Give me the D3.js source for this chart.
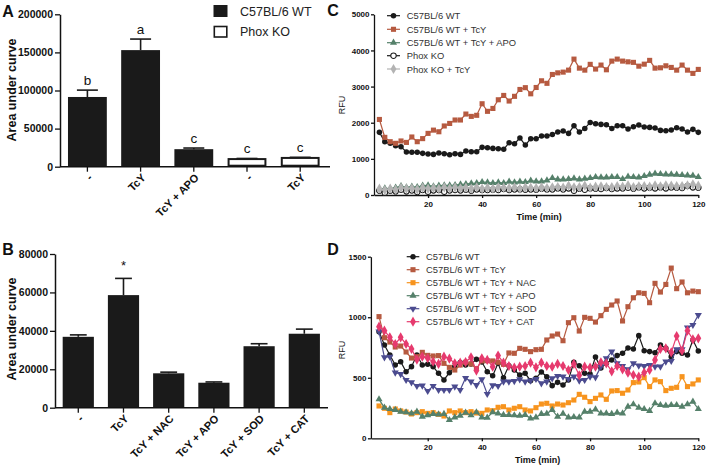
<!DOCTYPE html>
<html><head><meta charset="utf-8">
<script src="https://cdn.jsdelivr.net/npm/d3@7"></script>
<style>body{margin:0;background:#fff}svg{display:block;font-family:"Liberation Sans",Arial,sans-serif}</style>
</head><body><svg id="chart" width="707" height="467"></svg>
<script>
// ---------- Panel A ----------
const aLabels = ["-", "TcY", "TcY + APO", "-", "TcY"];
const aGroups = ["C57BL/6 WT", "C57BL/6 WT", "C57BL/6 WT", "Phox KO", "Phox KO"];
const aValues = [91500, 153000, 23000, 10000, 11500];
const aSem = [9000, 14500, 1500, 800, 800];
const aLetters = ["b", "a", "c", "c", "c"];
const aTicks = [0, 50000, 100000, 150000, 200000];
// ---------- Panel B ----------
const bLabels = ["-", "TcY", "TcY + NAC", "TcY + APO", "TcY + SOD", "TcY + CAT"];
const bValues = [36900, 58600, 17900, 13000, 32000, 38500];
const bSem = [1000, 8700, 600, 400, 1300, 2400];
const bMarks = ["", "*", "", "", "", ""];
const bTicks = [0, 20000, 40000, 60000, 80000];
// ---------- Time points (min) ----------
const time = [2,4,6,8,10,12,14,16,18,20,22,24,26,28,30,32,34,36,38,40,42,44,46,48,50,52,54,56,58,60,
              62,64,66,68,70,72,74,76,78,80,82,84,86,88,90,92,94,96,98,100,102,104,106,108,110,112,114,116,118,120];
const timeTicks = [20, 40, 60, 80, 100, 120];
// ---------- Panel C ----------
const cNames = ["C57BL/6 WT", "C57BL/6 WT + TcY", "C57BL/6 WT + TcY + APO", "Phox KO", "Phox KO + TcY"];
const cWT = [1733,1475,1429,1364,1336,1189,1180,1180,1152,1134,1124,1161,1143,1115,1143,1124,1217,1198,1198,1318,1309,1290,1281,1263,1447,1419,1576,1382,1558,1558,1631,1631,1677,1742,1770,1705,1917,1742,1843,2009,1972,1954,1945,1843,1917,1917,1825,1889,1935,1880,1871,1853,1788,1779,1797,1862,1825,1742,1816,1733];
const cTcY = [2090,1595,1475,1430,1495,1455,1605,1475,1560,1705,1795,1750,1910,1980,2075,2075,2240,2175,2205,2525,2315,2395,2635,2755,2600,2730,2920,2970,2800,2975,3160,3090,3335,3380,3400,3455,3760,3510,3455,3615,3485,3595,3465,3705,3760,3705,3685,3670,3565,3620,3725,3510,3520,3575,3530,3455,3595,3455,3365,3475];
const cAPO = [157,184,175,203,249,212,230,221,258,267,240,258,267,267,276,295,304,322,332,359,350,332,350,332,369,350,369,359,396,378,378,405,470,433,433,442,461,433,452,470,498,488,488,498,498,442,507,498,488,525,562,590,581,571,571,562,553,544,535,498];
const cKO = [120,65,120,101,147,101,129,83,138,92,129,138,92,129,138,129,147,120,157,138,138,147,138,166,138,157,157,147,157,147,175,157,157,184,157,184,120,175,147,184,175,166,194,166,184,184,203,175,212,184,203,184,212,184,212,203,194,249,212,203];
const cKOTcY = [175,138,175,147,203,175,184,157,203,175,194,175,212,184,212,184,203,175,212,175,203,175,212,203,194,212,175,212,203,194,212,194,212,221,203,258,212,221,258,203,230,240,221,221,249,230,267,221,240,249,230,267,240,267,258,249,249,267,295,258];
const cTicks = [0, 1000, 2000, 3000, 4000, 5000];
// ---------- Panel D ----------
const dNames = ["C57BL/6 WT", "C57BL/6 WT + TcY", "C57BL/6 WT + TcY + NAC", "C57BL/6 WT + TcY + APO", "C57BL/6 WT + TcY + SOD", "C57BL/6 WT + TcY + CAT"];
const dWT = [881,771,688,606,633,550,592,688,606,611,592,537,482,542,592,625,606,614,652,630,550,517,619,501,600,564,523,537,476,495,548,509,435,462,440,482,628,600,537,531,672,581,619,647,683,702,746,738,848,724,716,707,771,743,674,716,702,688,812,721];
const dTcY = [1005,831,795,754,762,713,663,674,710,685,680,683,619,586,564,605,628,614,575,639,641,639,628,611,705,702,743,735,716,732,735,812,845,861,806,955,996,886,999,991,960,1013,1065,1101,1134,969,1087,1161,1202,1197,1120,1280,1208,1271,1406,1236,1291,1202,1216,1211];
const dNAC = [267,248,212,242,226,217,201,212,220,206,212,198,184,226,212,226,212,220,209,206,234,228,256,261,234,248,261,234,226,253,283,289,267,283,275,294,316,363,339,303,330,358,322,391,394,372,399,460,465,501,427,482,468,394,413,421,509,427,449,482];
const dAPO = [322,253,242,234,220,215,206,220,179,190,201,198,201,151,173,187,212,190,215,173,171,215,206,193,193,190,187,193,165,173,201,204,234,179,204,173,176,173,220,220,239,206,206,201,212,206,261,281,253,242,226,289,275,270,275,275,261,281,303,242];
const dSOD = [881,669,674,542,531,482,462,432,435,391,432,399,399,399,427,399,498,468,440,487,366,438,432,468,468,473,487,468,476,490,454,468,495,515,509,490,509,476,482,509,504,592,661,716,619,597,570,619,600,597,606,592,592,633,639,735,735,914,936,1018];
const dCAT = [922,889,834,779,834,779,738,650,674,661,633,614,674,658,619,625,630,669,559,661,647,592,683,625,597,584,592,597,625,586,625,597,592,614,597,564,614,520,592,584,592,628,619,553,597,570,542,523,509,542,564,647,738,743,710,845,724,889,817,826];
const dTicks = [0, 500, 1000, 1500];

const FONT = '"Liberation Sans",Arial,sans-serif';
const svg = d3.select("#chart");
svg.append("rect").attr("width",707).attr("height",467).attr("fill","#fff");

function styleAxis(g, fs, weight){
  g.select(".domain").attr("stroke","#111").attr("stroke-width",1.5);
  g.selectAll(".tick line").attr("stroke","#111").attr("stroke-width",1.3);
  g.selectAll(".tick text").attr("fill","#111").style("font-size",fs+"px").style("font-weight",weight).style("font-family",FONT);
}

// ===== Bar panels =====
function barPanel(opt){
  const y = d3.scaleLinear().domain([0,opt.max]).range(opt.yr);
  const x = d3.scaleBand().domain(opt.labels.map((d,i)=>i)).range(opt.xr).paddingInner(opt.pi).paddingOuter(opt.po);
  const g = svg.append("g");
  const ya = g.append("g").attr("transform",`translate(${opt.xr[0]},0)`)
    .call(d3.axisLeft(y).tickValues(opt.ticks).tickFormat(d3.format("d")).tickSize(5).tickSizeOuter(0).tickPadding(2));
  styleAxis(ya, 10.5, "bold");
  const bw = x.bandwidth();
  opt.values.forEach((v,i)=>{
    const open = opt.open && opt.open[i];
    g.append("rect").attr("x",x(i)+(open?1:0)).attr("width",bw-(open?2:0))
      .attr("y",y(v)).attr("height",opt.yr[0]-y(v)-(open?1:0))
      .attr("fill",open?"#fff":"#1a1a1a").attr("stroke",open?"#1a1a1a":"none").attr("stroke-width",2);
    const cx = x(i)+bw/2, top = y(v+opt.sem[i]);
    g.append("line").attr("x1",cx).attr("x2",cx).attr("y1",y(v)).attr("y2",top).attr("stroke","#1a1a1a").attr("stroke-width",1.6);
    g.append("line").attr("x1",cx-bw*0.27).attr("x2",cx+bw*0.27).attr("y1",top).attr("y2",top).attr("stroke","#1a1a1a").attr("stroke-width",1.6);
    if(opt.marks[i]) g.append("text").attr("x",cx).attr("y",top-opt.markGap).attr("text-anchor","middle")
      .style("font-size",opt.markSize+"px").attr("fill","#111").text(opt.marks[i]);
  });
  const xa = g.append("g").attr("transform",`translate(0,${opt.yr[0]})`)
    .call(d3.axisBottom(x).tickFormat(()=>"").tickSize(5).tickSizeOuter(0));
  xa.select(".domain").attr("d",`M${opt.xr[0]},0H${opt.xEnd}`);
  styleAxis(xa, 11, "bold");
  opt.labels.forEach((lab,i)=>{
    const cx = x(i)+bw/2;
    g.append("text").attr("transform",`translate(${cx+3},${opt.yr[0]+9}) rotate(-45)`)
      .attr("text-anchor","end").attr("dy","0.35em")
      .style("font-size","11px").style("font-weight","bold").style("font-family",FONT).attr("fill","#111").text(lab);
  });
  g.append("text").attr("transform",`translate(${opt.labX},${opt.labY}) rotate(-90)`).attr("text-anchor","middle")
    .attr("dominant-baseline","central").style("font-size","12.5px").style("font-weight","bold").attr("fill","#111").text("Area under curve");
  return {x,y};
}

barPanel({labels:aLabels, values:aValues, sem:aSem, marks:aLetters, max:200000, ticks:aTicks,
  yr:[166.7,14.3], xr:[60,327.6], xEnd:330, pi:0.27, po:0.15, open:aGroups.map(g=>g==="Phox KO"),
  markGap:5, markSize:13.5, labX:12, labY:90});
barPanel({labels:bLabels, values:bValues, sem:bSem, marks:bMarks, max:80000, ticks:bTicks,
  yr:[407.7,254], xr:[55,327.6], xEnd:328, pi:0.31, po:0.17, open:null,
  markGap:8, markSize:13, labX:12, labY:329});

// Legend A
svg.append("rect").attr("x",213.5).attr("y",5).attr("width",14).attr("height",12).attr("fill","#1a1a1a");
svg.append("rect").attr("x",214.3).attr("y",26.5).attr("width",12.5).attr("height",10.5).attr("fill","#fff").attr("stroke","#1a1a1a").attr("stroke-width",1.6);
svg.append("text").attr("x",240).attr("y",11.5).attr("dominant-baseline","central").style("font-size","12.5px").attr("fill","#222").text(aGroups[0]);
svg.append("text").attr("x",240).attr("y",32).attr("dominant-baseline","central").style("font-size","12.5px").attr("fill","#222").text(aGroups[3]);

// Panel labels
[["A",8,11],["B",8,249],["C",333,10],["D",333,249]].forEach(([t,x,y])=>{
  svg.append("text").attr("x",x).attr("y",y).attr("text-anchor","middle").attr("dominant-baseline","central")
    .style("font-size","16px").style("font-weight","bold").attr("fill","#111").text(t);
});

// ===== Line panels =====
const sym = {
  circle: d3.symbol().type(d3.symbolCircle).size(24),
  square: d3.symbol().type(d3.symbolSquare).size(26),
  triangle: d3.symbol().type(d3.symbolTriangle).size(22),
  diamond: d3.symbol().type(d3.symbolDiamond).size(30),
};
function linePanel(opt){
  const x = d3.scaleLinear().domain(opt.xd).range(opt.xr);
  const y = d3.scaleLinear().domain([0,opt.max]).range(opt.yr);
  const g = svg.append("g");
  const ya = g.append("g").attr("transform",`translate(${opt.xr[0]},0)`)
    .call(d3.axisLeft(y).tickValues(opt.ticks).tickFormat(d3.format("d")).tickSize(3).tickSizeOuter(0).tickPadding(1.5));
  styleAxis(ya, 8, "bold");
  ya.select(".domain").attr("stroke-width",1.3);
  const xa = g.append("g").attr("transform",`translate(0,${opt.yr[0]})`)
    .call(d3.axisBottom(x).tickValues(timeTicks).tickFormat(d3.format("d")).tickSize(3).tickSizeOuter(0).tickPadding(3));
  styleAxis(xa, 8, "bold");
  xa.select(".domain").attr("stroke-width",1.3);
  g.append("text").attr("transform",`translate(342,${opt.rfuY}) rotate(-90)`).attr("text-anchor","middle").attr("dominant-baseline","central")
    .style("font-size","9px").attr("fill","#222").text("RFU");
  g.append("text").attr("x",(opt.xr[0]+opt.xr[1])/2+3).attr("y",opt.timeY).attr("text-anchor","middle").attr("dominant-baseline","central")
    .style("font-size","9px").style("font-weight","bold").attr("fill","#111").text("Time (min)");
  const line = d3.line().x((d,i)=>x(time[i])).y(d=>y(d));
  opt.series.forEach(s=>{
    g.append("path").attr("d",line(s.data)).attr("fill","none").attr("stroke",s.color).attr("stroke-width",1.2);
    g.selectAll(null).data(s.data).enter().append("path")
      .attr("d",sym[s.shape]()).attr("transform",(d,i)=>`translate(${x(time[i])},${y(d)})${s.rot?" rotate(180)":""}`)
      .attr("fill",s.open?"#fff":s.color).attr("stroke",s.open?s.color:"none").attr("stroke-width",1.1);
  });
  opt.series.forEach((s,k)=>{
    const ly = opt.legY[k];
    g.append("line").attr("x1",opt.legX[0]).attr("x2",opt.legX[1]).attr("y1",ly).attr("y2",ly).attr("stroke",s.color).attr("stroke-width",1.2);
    g.append("path").attr("d",sym[s.shape]()).attr("transform",`translate(${(opt.legX[0]+opt.legX[1])/2},${ly})${s.rot?" rotate(180)":""}`)
      .attr("fill",s.open?"#fff":s.color).attr("stroke",s.open?s.color:"none").attr("stroke-width",1.1);
    g.append("text").attr("x",opt.legX[2]).attr("y",ly).attr("dominant-baseline","central")
      .style("font-size","9.4px").attr("fill","#333").text(s.name);
  });
}

const cColors = ["#1a1a1a","#b65a40","#55806a","#1a1a1a","#b3b3b3"];
linePanel({xd:[0,120], xr:[374,698.3], max:5000, yr:[195,14.3], ticks:cTicks, rfuY:105, timeY:217,
  legX:[387,400,406.7], legY:[15.7,29.3,42.7,55.7,69],
  series:[
    {name:cNames[0], data:cWT, color:cColors[0], shape:"circle"},
    {name:cNames[1], data:cTcY, color:cColors[1], shape:"square"},
    {name:cNames[2], data:cAPO, color:cColors[2], shape:"triangle"},
    {name:cNames[3], data:cKO, color:cColors[3], shape:"circle", open:true},
    {name:cNames[4], data:cKOTcY, color:cColors[4], shape:"diamond"},
  ]});

const dColors = ["#1a1a1a","#b65a40","#f7941e","#55806a","#4b4b8f","#e63a6e"];
linePanel({xd:[-1,120], xr:[370.9,698.3], max:1500, yr:[438.3,256.7], ticks:dTicks, rfuY:350, timeY:460,
  legX:[406.7,419.3,426], legY:[256.7,269.7,282.7,295.7,308.7,321.7],
  series:[
    {name:dNames[0], data:dWT, color:dColors[0], shape:"circle"},
    {name:dNames[1], data:dTcY, color:dColors[1], shape:"square"},
    {name:dNames[2], data:dNAC, color:dColors[2], shape:"square"},
    {name:dNames[3], data:dAPO, color:dColors[3], shape:"triangle"},
    {name:dNames[4], data:dSOD, color:dColors[4], shape:"triangle", rot:true},
    {name:dNames[5], data:dCAT, color:dColors[5], shape:"diamond"},
  ]});
</script></body></html>
